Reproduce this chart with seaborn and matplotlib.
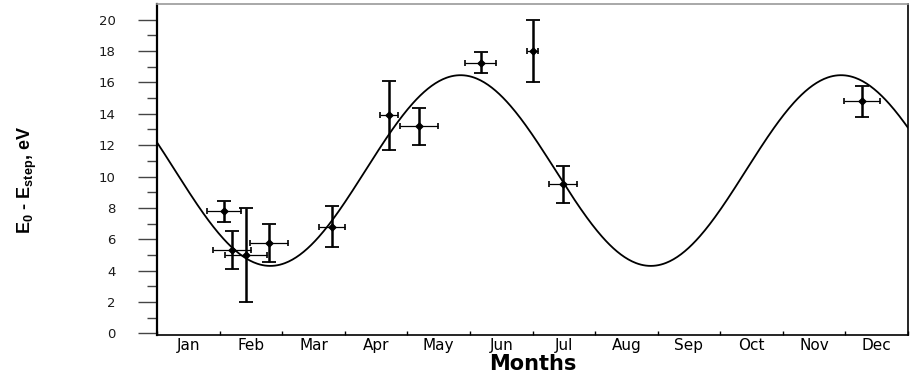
import numpy as np
import pandas as pd
import matplotlib
matplotlib.use("Agg")
import matplotlib.pyplot as plt
import seaborn as sns

# ---- data ----
months = ["Jan", "Feb", "Mar", "Apr", "May", "Jun",
          "Jul", "Aug", "Sep", "Oct", "Nov", "Dec"]
month_pos = [1.07, 1.20, 1.42, 1.79, 2.80, 3.71, 4.19, 5.17, 6.00, 6.49, 11.27]
energy = [7.8, 5.3, 5.0, 5.75, 6.8, 13.9, 13.2, 17.25, 18.0, 9.5, 14.8]
y_err = [0.67, 1.2, 3.0, 1.2, 1.3, 2.2, 1.2, 0.68, 2.0, 1.2, 1.0]
x_err = [0.27, 0.30, 0.33, 0.31, 0.21, 0.14, 0.30, 0.25, 0.08, 0.22, 0.29]
y_ticks = [0, 2, 4, 6, 8, 10, 12, 14, 16, 18, 20]

# fitted semi-annual sinusoid (parameters)
fit_mean = 10.38
fit_amp = 6.08
fit_period = 6.08   # months
fit_peak = 4.85     # month position of maximum

sns.set_style("ticks")
plt.rcParams["font.family"] = ["DejaVu Sans"]
plt.rcParams["text.color"] = "black"
plt.rcParams["axes.labelcolor"] = "black"
plt.rcParams["mathtext.fontset"] = "custom"
plt.rcParams["mathtext.rm"] = "Liberation Sans"
plt.rcParams["mathtext.bf"] = "Liberation Sans:bold"

fig = plt.figure(figsize=(9.13, 3.74), dpi=100)
ax = fig.add_axes([157 / 913, 1 - 334.9 / 374, 751 / 913, 330.9 / 374])

df = pd.DataFrame({"month": month_pos, "energy": energy,
                   "xerr": x_err, "yerr": y_err})
xc = np.linspace(0, 12, 600)
curve = pd.DataFrame({"month": xc,
                      "fit": fit_mean + fit_amp * np.cos(2 * np.pi * (xc - fit_peak) / fit_period)})

sns.lineplot(data=curve, x="month", y="fit", ax=ax, color="black", lw=1.3)

ax.errorbar(df["month"], df["energy"], xerr=df["xerr"], fmt="none",
            ecolor="black", elinewidth=0.9, capsize=2, capthick=1.2, zorder=3)
ax.errorbar(df["month"], df["energy"], yerr=df["yerr"], fmt="none",
            ecolor="black", elinewidth=1.8, capsize=5, capthick=1.3, zorder=3)
sns.scatterplot(data=df, x="month", y="energy", ax=ax, color="black",
                marker="D", s=16, edgecolor="black", linewidth=0.5, zorder=4)

ax.set_xlim(0, 12)
ax.set_ylim(-0.1, 21.0)

# x axis: ticks at month boundaries, labels centred in months
ax.set_xticks(np.arange(0, 13))
ax.set_xticklabels([])
ax.set_xticks(np.arange(0.5, 12, 1), minor=True)
ax.set_xticklabels(months, minor=True, fontsize=11)
ax.tick_params(axis="x", which="major", direction="in", length=3, width=1, color="black")
ax.tick_params(axis="x", which="minor", length=0, pad=2, labelcolor="black")

# y axis
ax.set_yticks(y_ticks)
ax.set_yticklabels([str(v) for v in y_ticks], fontsize=9.5)
ax.set_yticks(np.arange(1, 21, 2), minor=True)
ax.tick_params(axis="y", which="major", direction="out", length=13.7, width=1,
               pad=16, color="#444444", labelcolor="#1a1a1a")
ax.tick_params(axis="y", which="minor", direction="out", length=7, width=1, color="#444444")

for s in ["left", "bottom", "right"]:
    ax.spines[s].set_color("black")
ax.spines["left"].set_linewidth(1.6)
ax.spines["bottom"].set_linewidth(1.2)
ax.spines["right"].set_linewidth(1.2)
ax.spines["top"].set_color("#9a9a9a")
ax.spines["top"].set_linewidth(1.2)

ax.set_xlabel("Months", fontsize=15, fontweight="bold")
ax.xaxis.set_label_coords(0.5, -(364 - 334.9) / 330.9)
ax.xaxis.label.set_verticalalignment("center")
ax.set_ylabel(r"$\mathbf{E_0}$ - $\mathbf{E_{step}}$, eV", fontsize=13,
              fontweight="bold", family="Liberation Sans")
ax.yaxis.set_label_coords(-(157 - 27) / 751, (334.9 - 180) / 330.9)
ax.yaxis.label.set_verticalalignment("center")

fig.savefig("out.png", dpi=100)
